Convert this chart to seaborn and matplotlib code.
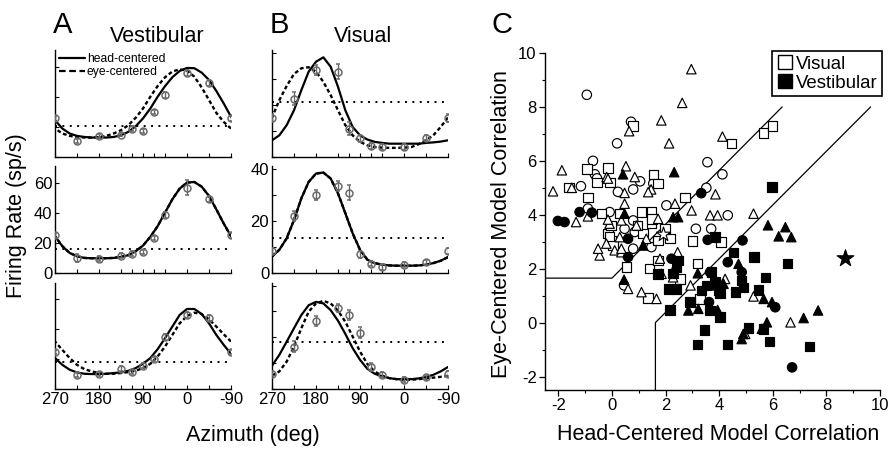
import matplotlib
matplotlib.use("Agg")
import matplotlib.pyplot as plt
from matplotlib.lines import Line2D
from matplotlib.ticker import FixedLocator, FixedFormatter, MultipleLocator
import numpy as np
import pandas as pd
import seaborn as sns

# ---------------- data: panels A / B (tuning curves) ----------------
az_curve = [270, 255, 240, 225, 210, 195, 180, 165, 150, 135, 120, 105, 90,
            75, 60, 45, 30, 15, 0, -15, -30, -45, -60, -75, -90]
az_pts = [270, 225, 180, 135, 112.5, 90, 67.5, 45, 0, -45, -90]
az_tick_labels = ["270", "", "180", "", "", "90", "", "", "0", "", "-90"]

a_top_head = [24.4, 18.9, 15.6, 14.0, 13.3, 12.9, 12.9, 12.9, 13.3, 14.4, 16.7, 20.4, 25.6,
              32.2, 40.0, 47.0, 52.9, 57.1, 59.1, 58.9, 56.0, 51.1, 43.8, 35.6, 26.7]
a_top_eye = [18.9, 15.6, 14.0, 13.3, 12.9, 12.9, 13.3, 14.0, 15.6, 17.8, 21.1, 26.0, 32.2,
             40.0, 47.1, 52.9, 56.7, 58.2, 57.3, 53.3, 46.2, 37.8, 29.3, 23.3, 18.9]
a_top_pts = [25.6, 10.7, 13.8, 14.9, 18.9, 17.3, 30.0, 41.1, 56.0, 49.3, 25.6]
a_top_err = [1.5, 1.5, 1.2, 1.2, 1.5, 1.5, 1.5, 2.0, 2.0, 2.0, 1.5]

a_mid_head = [24.4, 17.8, 13.3, 11.1, 10.0, 9.8, 9.8, 9.8, 10.0, 10.7, 11.8, 14.4, 18.2,
              24.0, 31.1, 40.0, 48.9, 56.0, 60.0, 60.4, 57.3, 51.1, 42.2, 32.9, 24.4]
a_mid_eye = [24.4, 17.8, 13.3, 11.1, 10.0, 9.8, 9.8, 9.8, 10.0, 10.7, 11.8, 14.4, 18.2,
             24.0, 31.1, 40.0, 48.9, 56.0, 60.0, 60.4, 57.3, 51.1, 42.2, 32.9, 24.4]
a_mid_pts = [24.9, 10.0, 9.6, 11.6, 12.9, 13.8, 23.3, 38.4, 56.7, 48.9, 24.9]
a_mid_err = [1.5, 2.5, 1.5, 1.5, 1.5, 1.5, 1.5, 2.0, 5.0, 2.0, 1.5]

a_bot_head = [20.7, 16.2, 12.9, 11.1, 10.2, 10.0, 10.0, 10.2, 10.7, 11.1, 12.2, 14.0, 16.9,
              20.7, 26.7, 34.0, 41.8, 49.6, 53.6, 53.6, 50.2, 44.0, 36.2, 29.6, 23.6]
a_bot_eye = [31.8, 26.2, 20.7, 16.2, 13.3, 11.8, 10.7, 10.2, 10.2, 10.7, 11.3, 12.2, 14.0,
             16.9, 21.8, 28.4, 36.2, 44.0, 48.9, 51.1, 50.2, 46.7, 41.8, 36.7, 31.8]
a_bot_pts = [24.7, 9.6, 10.0, 13.6, 11.3, 15.6, 20.2, 35.1, 49.6, 47.3, 24.7]
a_bot_err = [1.5, 1.5, 1.2, 1.5, 1.5, 1.5, 1.5, 2.0, 2.0, 2.0, 1.5]

b_top_head = [6.4, 8.3, 12.2, 17.9, 25.6, 32.7, 36.5, 38.2, 34.6, 26.9, 17.9, 11.5, 8.3,
              6.7, 5.8, 5.4, 5.1, 5.1, 5.1, 5.1, 5.1, 5.4, 5.6, 5.9, 6.4]
b_top_eye = [15.1, 21.8, 27.2, 31.8, 34.0, 34.4, 32.7, 28.8, 23.7, 17.9, 12.2, 8.3, 5.8,
             4.5, 3.8, 3.6, 3.5, 3.5, 3.6, 3.8, 4.9, 6.4, 8.3, 11.5, 15.1]
b_top_pts = [15.1, 22.4, 33.3, 32.7, 10.9, 7.1, 4.2, 3.8, 3.8, 7.4, 15.1]
b_top_err = [1.5, 2.5, 2.0, 3.0, 2.5, 1.5, 1.0, 1.0, 1.0, 1.0, 1.5]

b_mid_head = [6.3, 8.9, 13.3, 20.3, 28.6, 34.9, 38.1, 38.5, 36.2, 30.5, 22.9, 15.2, 8.9,
              5.1, 3.8, 3.2, 2.9, 2.8, 2.8, 2.8, 2.9, 3.2, 3.8, 4.7, 6.1]
b_mid_eye = [6.3, 8.9, 13.3, 20.3, 28.6, 34.9, 38.1, 38.5, 36.2, 30.5, 22.9, 15.2, 8.9,
             5.1, 3.8, 3.2, 2.9, 2.8, 2.8, 2.8, 2.9, 3.2, 3.8, 4.7, 6.1]
b_mid_pts = [8.3, 21.8, 29.9, 33.3, 30.8, 7.1, 3.6, 2.3, 3.2, 4.1, 8.3]
b_mid_err = [1.2, 2.0, 2.0, 2.0, 3.0, 1.5, 1.0, 1.0, 1.0, 1.0, 1.2]

b_bot_head = [9.0, 13.2, 18.3, 23.5, 28.6, 32.4, 33.7, 33.1, 30.5, 26.4, 21.3, 15.8, 11.3,
              7.8, 5.9, 4.9, 4.2, 3.8, 3.8, 3.8, 4.1, 4.6, 5.5, 6.8, 8.5]
b_bot_eye = [5.1, 6.8, 10.6, 16.4, 23.5, 29.9, 33.1, 34.1, 33.1, 30.3, 26.0, 20.3, 14.5,
             9.7, 6.8, 5.1, 4.2, 3.8, 3.6, 3.6, 3.8, 4.1, 4.4, 4.7, 5.1]
b_bot_pts = [5.9, 16.4, 26.4, 31.2, 28.6, 21.8, 8.5, 5.5, 3.6, 4.6, 5.9]
b_bot_err = [1.0, 2.0, 2.0, 1.5, 2.0, 2.0, 1.5, 1.0, 1.0, 1.0, 1.0]

a_baseline = [20.4, 16.2, 18.0]
b_baseline = [21.2, 13.5, 18.1]

# ---------------- data: panel C (model correlations) ----------------
vis_circle_x = [-0.94, 0.71, 0.19, -0.71, -0.64, 3.56, 4.12, 3.52, -1.16, 1.05, 0.22, 0.79, -0.9,
                -0.09, 2.03, 3.13, 3.7, 4.32, 0.45, 0.85, 0.47, 0.79, 1.47, 1.54, 0.79, -0.56]
vis_circle_y = [8.45, 7.45, 6.65, 6.0, 5.5, 5.95, 5.5, 5.0, 5.06, 5.24, 4.85, 4.94, 4.23,
                4.1, 4.35, 3.48, 3.48, 3.98, 1.38, 3.36, 3.48, 2.74, 2.8, 5.16, 3.79, 5.35]
vis_square_x = [0.79, 4.46, 5.66, 5.99, -0.94, -0.15, -0.56, 1.54, 1.72, -1.61, -0.07, 2.73, -0.9,
                -0.4, -0.15, -0.03, 0.29, 0.54, 1.47, 1.47, 2.16, 3.0, 3.2, 3.28, 4.07, 1.41,
                1.72, 2.54, 1.16, 1.1, 1.5, -0.03, 1.97, -0.09, 1.72, 0.04, 1.35, 0.95]
vis_square_y = [7.3, 6.65, 7.03, 7.3, 5.69, 5.73, 5.2, 5.5, 5.17, 5.02, 5.2, 4.64, 4.64,
                4.04, 3.3, 3.05, 4.04, 2.06, 4.1, 3.67, 3.11, 3.02, 2.2, 0.88, 2.99, 2.0,
                2.3, 1.62, 3.3, 4.1, 3.85, 3.6, 3.48, 3.17, 3.05, 2.86, 0.92, 3.6]
vis_triangle_x = [-2.2, -1.87, 2.96, 2.62, 1.84, 2.13, 0.64, 0.52, 4.12, 3.86, -0.2, 1.46, -1.5,
                  -1.34, -0.9, -0.46, -0.21, 0.1, 0.35, 0.6, 1.1, 1.66, 1.79, 1.85, 2.28, 2.45,
                  2.93, 2.97, 3.66, 3.94, 4.22, 5.28, 5.28, 6.66, 2.35, 0.47, -0.09, -0.15,
                  0.47, 0.85, 1.35, 0.35, 0.91, 1.72, 0.29, 1.28, -0.52, 0.35, -0.15, 4.97]
vis_triangle_y = [4.87, 5.65, 9.4, 8.15, 7.5, 6.65, 7.1, 5.8, 6.9, 4.76, 5.4, 4.94, 5.0,
                  3.73, 3.94, 2.49, 2.93, 2.68, 2.61, 1.25, 1.13, 0.88, 2.37, 1.81, 1.68, 2.61,
                  1.38, 4.16, 3.98, 3.98, 1.62, 4.04, 0.97, 0.01, 4.41, 4.41, 3.67, 3.82,
                  4.81, 5.4, 4.84, 3.79, 3.6, 3.85, 3.17, 3.11, 2.74, 2.74, 5.34, -0.42]
vis_star_x = [1.91]
vis_star_y = [3.3]

ves_circle_x = [-2.02, -1.77, -1.21, -0.75, 3.33, 3.57, 4.87, 4.32, 4.84, 2.22, 0.6, 3.62, 6.09,
                6.72, 3.66, 0.6]
ves_circle_y = [3.77, 3.73, 4.1, 4.08, 4.8, 3.07, 3.05, 2.24, 1.87, 2.37, 2.43, 0.76, 0.57,
                -1.66, 1.87, 3.11]
ves_square_x = [5.97, 4.53, 5.3, 6.55, 5.72, 5.47, 4.9, 4.6, 4.03, 3.72, 3.85, 2.1, 2.41, 2.16,
                2.91, 3.66, 4.03, 3.45, 3.2, 4.32, 5.09, 5.66, 5.87, 7.37, 2.47, 2.41, 2.28,
                3.85, 3.53, 3.34, 3.97, 4.84, 1.72]
ves_square_y = [5.03, 2.61, 2.43, 2.2, 1.68, 1.21, 1.31, 1.13, 1.07, 1.87, 3.17, 1.25, 1.25, 0.47,
                0.76, 0.45, 0.2, -0.27, -0.82, -0.82, -0.2, -0.23, -0.7, -0.88, 2.3, 2.06, 1.83,
                1.5, 1.38, 1.19, 1.19, 1.56, 1.81]
ves_triangle_x = [0.41, 2.32, 5.82, 6.47, 6.22, 6.69, 4.72, 3.2, 0.45, 2.28, 2.47, 2.85, 3.22,
                  3.94, 3.85, 5.66, 5.97, 7.69, 7.15, 5.78, 4.84, 4.9, 5.59, 2.41, 4.16, 0.47,
                  1.16]
ves_triangle_y = [5.5, 5.58, 3.61, 3.54, 3.2, 3.17, 2.18, 1.83, 1.59, 3.91, 3.91, 0.45, 0.51,
                  0.47, 1.38, 0.88, 0.76, 0.45, 0.17, 0.01, -0.61, -0.42, -0.23, 2.18, 1.44, 4.04,
                  2.86]
ves_star_x = [8.7]
ves_star_y = [2.4]

boundary1_x = [-2.5, 0.0, 6.35]
boundary1_y = [1.65, 1.65, 8.0]
boundary2_x = [1.62, 1.62, 9.65]
boundary2_y = [-2.5, 0.0, 8.0]

# ---------------- style ----------------
sns.set_theme(style="white")
plt.rcParams["font.family"] = ["Liberation Sans", "DejaVu Sans"]
plt.rcParams["axes.unicode_minus"] = False
plt.rcParams["axes.edgecolor"] = "black"
plt.rcParams["text.color"] = "black"
plt.rcParams["xtick.color"] = "black"
plt.rcParams["ytick.color"] = "black"
plt.rcParams["axes.linewidth"] = 1.0

fig = plt.figure(figsize=(8.89, 4.51), dpi=100)
W, H = 889.0, 451.0

DASH = (0, (1.6, 1.1))
DOT = (0, (1, 2.8))

col_left = [55 / W, 272 / W]
col_w = 176 / W
row_bottom = [1 - 157 / H, 1 - 273 / H, 1 - 389 / H]
row_h = [107 / H, 107 / H, 106 / H]

panels = {
    (0, 0): (a_top_head, a_top_eye, a_top_pts, a_top_err, a_baseline[0]),
    (1, 0): (a_mid_head, a_mid_eye, a_mid_pts, a_mid_err, a_baseline[1]),
    (2, 0): (a_bot_head, a_bot_eye, a_bot_pts, a_bot_err, a_baseline[2]),
    (0, 1): (b_top_head, b_top_eye, b_top_pts, b_top_err, b_baseline[0]),
    (1, 1): (b_mid_head, b_mid_eye, b_mid_pts, b_mid_err, b_baseline[1]),
    (2, 1): (b_bot_head, b_bot_eye, b_bot_pts, b_bot_err, b_baseline[2]),
}

for (r, c), (head, eye, pts, err, base) in panels.items():
    ax = fig.add_axes([col_left[c], row_bottom[r], col_w, row_h[r]])
    ax.set_facecolor("none")
    ax.axhline(base, color="black", lw=1.4, linestyle=DOT, zorder=1)
    sns.lineplot(x=az_curve, y=eye, ax=ax, color="black", lw=1.7,
                 linestyle=DASH, estimator=None, zorder=2)
    sns.lineplot(x=az_curve, y=head, ax=ax, color="black", lw=1.6,
                 estimator=None, zorder=2)
    ax.errorbar(az_pts, pts, yerr=err, fmt="o", mfc="none", mec="#6a6a6a",
                ecolor="#6a6a6a", ms=5, mew=1.1, elinewidth=1.0, capsize=1.5,
                zorder=3)
    ax.set_xlim(270, -90)
    if c == 0:
        ax.set_ylim(0, 71)
        yt = [0, 20, 40, 60]
        ylab = ["0", "20", "40", "60"]
    else:
        ax.set_ylim(0, 41)
        yt = [0, 10, 20, 30, 40]
        ylab = ["0", "", "20", "", "40"]
    ax.yaxis.set_major_locator(FixedLocator(yt))
    if r == 1:
        ax.yaxis.set_major_formatter(FixedFormatter(ylab))
    else:
        ax.yaxis.set_major_formatter(FixedFormatter([""] * len(yt)))
    ax.xaxis.set_major_locator(FixedLocator(az_pts))
    if r == 2:
        ax.xaxis.set_major_formatter(FixedFormatter(az_tick_labels))
    else:
        ax.xaxis.set_major_formatter(FixedFormatter([""] * len(az_pts)))
    ax.tick_params(direction="in", length=3, width=0.8, labelsize=12, pad=2,
                   bottom=True, left=True)
    ax.set_xlabel("")
    ax.set_ylabel("")
    sns.despine(ax=ax)
    if (r, c) == (0, 0):
        handles = [Line2D([], [], color="black", lw=1.6),
                   Line2D([], [], color="black", lw=1.6, linestyle=(0, (3, 1.6)))]
        ax.legend(handles, ["head-centered", "eye-centered"], loc="upper left",
                  bbox_to_anchor=(0.02, 0.97), frameon=False, fontsize=8.7,
                  handlelength=2.2, handletextpad=0.15, borderaxespad=0,
                  borderpad=0, labelspacing=0.1)

# ---------------- panel C ----------------
axc = fig.add_axes([545 / W, 1 - 390 / H, 335 / W, 337 / H])
shape_markers = {"circle": "o", "square": "s", "triangle": "^", "star": "*"}


def frame(xc, yc, xs, ys, xt, yt):
    rows = []
    for shape, xx, yy in (("circle", xc, yc), ("square", xs, ys), ("triangle", xt, yt)):
        for a, b in zip(xx, yy):
            rows.append({"x": a, "y": b, "shape": shape})
    return pd.DataFrame(rows)


vis_df = frame(vis_circle_x, vis_circle_y, vis_square_x, vis_square_y,
               vis_triangle_x, vis_triangle_y)
ves_df = frame(ves_circle_x, ves_circle_y, ves_square_x, ves_square_y,
               ves_triangle_x, ves_triangle_y)

axc.plot(boundary1_x, boundary1_y, color="black", lw=0.9, zorder=1)
axc.plot(boundary2_x, boundary2_y, color="black", lw=0.9, zorder=1)

sns.scatterplot(data=vis_df, x="x", y="y", style="shape", markers=shape_markers,
                s=46, color="white", edgecolor="black", linewidth=0.85,
                legend=False, ax=axc, zorder=2)
sns.scatterplot(data=ves_df, x="x", y="y", style="shape", markers=shape_markers,
                s=46, color="black", edgecolor="black", linewidth=0.85,
                legend=False, ax=axc, zorder=3)
sns.scatterplot(x=vis_star_x, y=vis_star_y, marker="*", s=115, color="white",
                edgecolor="black", linewidth=0.8, legend=False, ax=axc, zorder=3)
sns.scatterplot(x=ves_star_x, y=ves_star_y, marker="*", s=160, color="black",
                edgecolor="black", linewidth=0.8, legend=False, ax=axc, zorder=3)

axc.set_xlim(-2.5, 10)
axc.set_ylim(-2.5, 10)
axc.xaxis.set_major_locator(MultipleLocator(2))
axc.yaxis.set_major_locator(MultipleLocator(2))
axc.xaxis.set_minor_locator(MultipleLocator(1))
axc.yaxis.set_minor_locator(MultipleLocator(1))
axc.tick_params(which="major", direction="out", length=4, width=0.9, labelsize=12,
                pad=2, bottom=True, left=True)
axc.tick_params(which="minor", direction="out", length=2.5, width=0.8,
                bottom=True, left=True)
axc.set_xlabel("")
axc.set_ylabel("")
sns.despine(ax=axc)

leg_handles = [Line2D([], [], marker="s", ls="none", mfc="white", mec="black", ms=9.5, mew=1.0),
               Line2D([], [], marker="s", ls="none", mfc="black", mec="black", ms=9.5, mew=1.0)]
leg = axc.legend(leg_handles, ["Visual", "Vestibular"], loc="upper right",
                 bbox_to_anchor=(1.006, 1.006), fontsize=13.4, frameon=True,
                 fancybox=False, edgecolor="black", framealpha=1,
                 borderaxespad=0, borderpad=0.25, handletextpad=0.1,
                 handlelength=0.9, labelspacing=0.1)
leg.get_frame().set_linewidth(1.2)
leg.set_zorder(5)

# ---------------- texts ----------------
fig.text(63 / W, 1 - 25 / H, "A", ha="center", va="center", fontsize=21)
fig.text(279 / W, 1 - 25 / H, "B", ha="center", va="center", fontsize=21)
fig.text(502 / W, 1 - 25 / H, "C", ha="center", va="center", fontsize=21)
fig.text(157 / W, 1 - 37 / H, "Vestibular", ha="center", va="center", fontsize=15.5)
fig.text(363 / W, 1 - 37 / H, "Visual", ha="center", va="center", fontsize=15.5)
fig.text(17 / W, 1 - 216 / H, "Firing Rate (sp/s)", ha="center", va="center",
         rotation=90, fontsize=15.5)
fig.text(253 / W, 1 - 435 / H, "Azimuth (deg)", ha="center", va="center", fontsize=15.5)
fig.text(718 / W, 1 - 435 / H, "Head-Centered Model Correlation", ha="center",
         va="center", fontsize=15.5)
fig.text(502 / W, 1 - 224 / H, "Eye-Centered Model Correlation", ha="center",
         va="center", rotation=90, fontsize=15.5)

fig.savefig("out.png", dpi=100)
